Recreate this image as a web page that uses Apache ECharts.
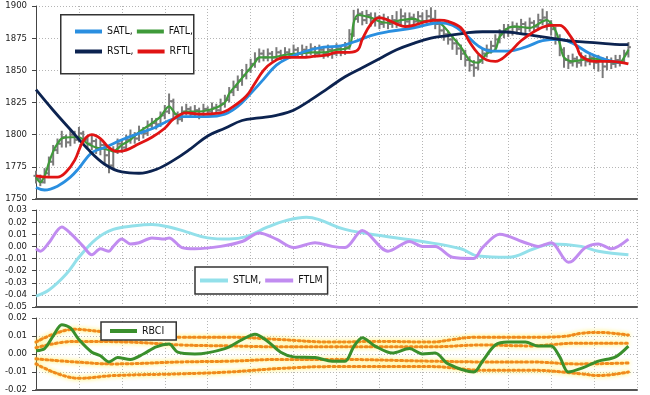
<!DOCTYPE html>
<html><head><meta charset="utf-8">
<script src="https://cdn.jsdelivr.net/npm/echarts@6/dist/echarts.min.js"></script>
<style>html,body{margin:0;padding:0;background:#fff}#c{width:650px;height:395px}</style>
</head><body><div id="c"></div>
<script>
// ---- price bars [open, close, low, high], one per index ----
const bars = [
[1768,1766,1762,1772],[1766,1763,1760,1769],[1763,1770,1762,1774],[1770,1779,1768,1783],[1779,1788,1776,1792],
[1788,1793,1785,1797],[1793,1798,1790,1803],[1798,1794,1790,1800],[1794,1800,1791,1804],[1800,1796,1793,1803],
[1796,1801,1794,1806],[1801,1796,1792,1803],[1796,1793,1789,1799],[1793,1795,1788,1800],[1795,1789,1785,1797],
[1789,1792,1784,1796],[1792,1784,1778,1794],[1784,1776,1770,1788],[1776,1787,1774,1791],[1787,1793,1785,1797],
[1793,1790,1786,1796],[1790,1796,1788,1800],[1796,1799,1793,1804],[1799,1797,1793,1802],[1797,1803,1795,1807],
[1803,1801,1797,1806],[1801,1807,1799,1811],[1807,1809,1804,1813],[1809,1808,1804,1813],[1808,1815,1806,1818],
[1815,1818,1812,1823],[1818,1826,1816,1832],[1826,1816,1812,1828],[1816,1812,1808,1818],[1812,1818,1810,1822],
[1818,1820,1815,1824],[1820,1816,1813,1822],[1816,1819,1814,1823],[1819,1816,1812,1821],[1816,1820,1814,1824],
[1820,1818,1815,1822],[1818,1821,1816,1825],[1821,1819,1816,1824],[1819,1824,1818,1828],[1824,1827,1821,1831],
[1827,1833,1825,1837],[1833,1837,1830,1842],[1837,1842,1834,1846],[1842,1846,1838,1851],[1846,1850,1843,1855],
[1850,1855,1848,1859],[1855,1859,1852,1864],[1859,1863,1856,1867],[1863,1860,1857,1866],[1860,1863,1857,1867],
[1863,1860,1857,1865],[1860,1864,1858,1868],[1864,1861,1858,1866],[1861,1864,1859,1868],[1864,1862,1859,1867],
[1862,1866,1860,1870],[1866,1863,1860,1868],[1863,1866,1861,1870],[1866,1864,1861,1869],[1864,1867,1862,1871],
[1867,1863,1860,1869],[1863,1866,1861,1870],[1866,1863,1859,1868],[1863,1866,1860,1870],[1866,1863,1859,1868],
[1863,1867,1861,1871],[1867,1864,1861,1869],[1864,1868,1862,1872],[1868,1878,1866,1882],[1878,1890,1876,1897],
[1890,1894,1887,1898],[1894,1889,1885,1896],[1889,1893,1886,1897],[1893,1888,1884,1895],[1888,1891,1884,1895],
[1891,1886,1882,1893],[1886,1890,1883,1894],[1890,1886,1882,1892],[1886,1889,1883,1893],[1889,1887,1883,1896],
[1887,1892,1885,1898],[1892,1888,1884,1895],[1888,1891,1885,1895],[1891,1888,1884,1894],[1888,1892,1885,1896],
[1892,1888,1884,1895],[1888,1892,1885,1897],[1892,1890,1886,1899],[1890,1886,1882,1897],[1886,1881,1877,1889],
[1881,1878,1873,1884],[1878,1874,1870,1881],[1874,1871,1866,1877],[1871,1867,1862,1874],[1867,1863,1858,1870],
[1863,1858,1853,1866],[1858,1854,1849,1861],[1854,1852,1845,1858],[1852,1858,1850,1862],[1858,1863,1855,1867],
[1863,1866,1860,1870],[1866,1869,1863,1873],[1869,1874,1866,1878],[1874,1878,1871,1882],[1878,1882,1875,1886],
[1882,1880,1876,1886],[1880,1884,1877,1888],[1884,1882,1878,1887],[1882,1886,1879,1890],[1886,1883,1879,1888],
[1883,1887,1880,1891],[1887,1884,1880,1889],[1884,1889,1881,1894],[1889,1891,1885,1898],[1891,1886,1881,1896],
[1886,1882,1877,1889],[1882,1875,1870,1884],[1875,1866,1861,1878],[1866,1858,1852,1868],[1858,1856,1851,1862],
[1856,1859,1853,1863],[1859,1856,1852,1861],[1856,1860,1853,1864],[1860,1857,1853,1862],[1857,1860,1854,1864],
[1860,1856,1851,1862],[1856,1858,1849,1862],[1858,1853,1844,1860],[1853,1857,1850,1861],[1857,1855,1851,1860],
[1855,1858,1852,1862],[1858,1857,1853,1862],[1857,1863,1855,1866],[1863,1868,1860,1872]
];

// ---- price-panel lines: index positions and values ----
const satlIdx = [0,2,5,8,10,13,16,20,24,28,31,34,40,44,47,50,53,56,59,63,67,71,74,78,82,88,94,97,100,103,106,110,114,118,122,125,129,133,136];
const satlVal = [1759,1757,1760,1767,1774,1786,1790,1796,1801,1806,1811,1814,1814,1816,1822,1832,1843,1854,1860,1865,1868,1869,1872,1877,1880,1883,1887,1885,1878,1869,1865,1865,1868,1873,1874,1871,1863,1858,1856];

const fatlIdx = [0,1,2,3,4,5,6,8,10,12,14,16,17,18,20,22,24,27,29,31,33,35,38,40,42,44,45,47,49,51,52,55,58,61,64,67,70,73,74,75,78,80,82,85,88,90,93,95,97,99,101,103,105,107,108,110,112,115,118,119,121,122,123,125,127,130,133,136,137,138];
const fatlVal = [1767,1763,1768,1778,1787,1793,1797,1798,1798,1793,1790,1789,1788,1787,1792,1796,1802,1809,1814,1822,1815,1818,1818,1819,1821,1825,1832,1840,1848,1856,1860,1860,1862,1863,1864,1864,1866,1868,1887,1893,1891,1888,1887,1889,1890,1888,1889,1884,1876,1868,1858,1856,1863,1866,1876,1883,1884,1883,1888,1889,1881,1871,1860,1857,1858,1859,1857,1856,1860,1866];

const rstlIdx = [0,4,8,12,16,20,24,28,32,36,40,44,48,52,56,60,64,68,72,76,80,84,88,92,96,100,104,108,112,116,120,124,128,132,136,138];
const rstlVal = [1835,1819,1804,1789,1777,1771,1770,1773,1780,1789,1799,1805,1811,1813,1815,1819,1827,1836,1845,1852,1859,1866,1871,1875,1877,1879,1880,1880,1879,1877,1875,1873,1872,1871,1870,1870];

const rftlIdx = [0,3,5,7,9,11,13,15,17,19,21,24,27,30,32,35,38,43,46,49,51,53,55,58,62,65,68,70,73,75,76,78,80,82,84,86,88,91,94,96,99,101,103,105,107,110,113,117,120,122,124,126,127,130,134,138];
const rftlVal = [1768,1767,1767,1771,1780,1795,1800,1797,1790,1787,1788,1793,1798,1805,1812,1817,1816,1817,1822,1830,1840,1850,1856,1860,1860,1861,1862,1864,1864,1866,1874,1886,1891,1889,1886,1884,1885,1888,1889,1888,1883,1872,1863,1858,1857,1863,1873,1882,1885,1885,1879,1868,1861,1857,1857,1855];

// ---- momentum panel ----
const stlmIdx = [0,3,7,10,14,18,23,27,31,35,40,45,49,54,58,63,66,72,82,90,99,103,110,116,120,127,131,138];
const stlmVal = [-0.041,-0.036,-0.023,-0.009,0.006,0.014,0.017,0.018,0.016,0.012,0.007,0.006,0.008,0.016,0.021,0.024,0.022,0.014,0.008,0.004,-0.002,-0.008,-0.009,-0.002,0.002,0.000,-0.004,-0.007];
const ftlmIdx = [0,1,3,6,8,11,13,15,17,18,20,22,24,27,30,31,34,37,43,48,52,56,60,65,69,72,76,82,87,90,93,97,102,104,108,114,117,120,124,125,128,131,134,138];
const ftlmVal = [-0.002,-0.004,0.003,0.016,0.011,0.000,-0.007,-0.002,-0.004,0.000,0.006,0.002,0.003,0.007,0.006,0.007,-0.001,-0.002,0.000,0.004,0.011,0.006,-0.001,0.003,0.000,-0.001,0.013,-0.004,0.004,0.000,0.000,-0.009,-0.010,-0.001,0.010,0.003,0.000,0.003,-0.013,-0.012,-0.001,0.002,-0.002,0.006];

// ---- RBCI panel ----
const rbciIdx = [0,2,4,6,8,10,13,15,17,19,22,25,28,31,33,37,44,48,51,54,57,60,65,69,72,74,76,79,83,87,90,93,96,102,104,107,110,114,117,120,122,124,127,131,135,138];
const rbciVal = [0.0018,0.003,0.010,0.0163,0.0145,0.008,0.001,-0.001,-0.0044,-0.002,-0.003,0.000,0.004,0.0055,0.001,0.000,0.003,0.008,0.011,0.007,0.001,-0.0016,-0.002,-0.004,-0.004,0.004,0.009,0.0044,0.0005,0.003,0.000,0.0005,-0.0055,-0.010,-0.004,0.005,0.0066,0.0066,0.0044,0.0044,-0.0016,-0.010,-0.008,-0.004,-0.0016,0.0044];
const bandUOIdx = [0,4,9,15,22,34,45,57,69,80,92,97,102,115,123,127,131,138];
const bandUOVal = [0.0066,0.011,0.0137,0.0125,0.011,0.0093,0.0093,0.008,0.0066,0.007,0.0066,0.008,0.0093,0.0093,0.0098,0.0115,0.012,0.0105];
const bandUIIdx = [0,9,22,34,45,57,69,80,92,104,115,126,138];
const bandUIVal = [0.0035,0.007,0.0066,0.005,0.0045,0.004,0.004,0.004,0.004,0.005,0.0045,0.006,0.006];
const bandLIIdx = [0,9,18,34,45,57,69,92,104,115,126,138];
const bandLIVal = [-0.0027,-0.0044,-0.0055,-0.0044,-0.004,-0.003,-0.003,-0.004,-0.0044,-0.0044,-0.0055,-0.005];
const bandLOIdx = [0,10,18,34,45,57,69,92,104,115,127,131,138];
const bandLOVal = [-0.0055,-0.0135,-0.012,-0.011,-0.010,-0.008,-0.007,-0.007,-0.009,-0.009,-0.011,-0.012,-0.010];

const priceTicks = {min:1750, max:1900, interval:25};
const momTicks = {min:-0.05, max:0.03, interval:0.01};
const rbciTicks = {min:-0.02, max:0.02, interval:0.01};
const commaNames = ['SATL','FATL','RSTL','STLM'];

const pairs = (idx, val) => idx.map((x, k) => [x, val[k]]);

const FONT = "'DejaVu Sans Condensed', 'Liberation Sans Narrow', 'DejaVu Sans', sans-serif";
const grids = [
  {left:36, right:13, top:6, height:193},
  {left:36, right:13, top:210, height:97},
  {left:36, right:13, top:318, height:73}
];
const split = {show:true, lineStyle:{color:'#b5b5b5', type:[1,2], width:1}};
const xAxes = [0,1,2].map(g => ({
  type:'value', gridIndex:g, min:0, max:140, interval:10,
  axisLabel:{show:false}, axisTick:{show:false},
  axisLine:{show:true, onZero:false, lineStyle:{color:'#555', width:2}},
  splitLine:split
}));
function yAxis(g, t, fmt){
  return {type:'value', gridIndex:g, min:t.min, max:t.max, interval:t.interval,
    axisLine:{show:true, lineStyle:{color:'#444', width:1}},
    axisTick:{show:true, length:4, lineStyle:{color:'#444'}},
    axisLabel:{fontFamily:FONT, fontSize:9.5, color:'#222', margin:9, formatter:fmt},
    splitLine:split};
}
const yAxes = [
  yAxis(0, priceTicks, v => String(Math.round(v))),
  yAxis(1, momTicks, v => (Math.abs(v)<1e-9?0:v).toFixed(2)),
  yAxis(2, rbciTicks, v => (Math.abs(v)<1e-9?0:v).toFixed(2))
];

function line(name, idx, val, color, width, g, extra){
  return Object.assign({type:'line', name, xAxisIndex:g, yAxisIndex:g, data:pairs(idx,val),
    smooth:0.4, showSymbol:false, symbol:'none', lineStyle:{color, width}, itemStyle:{color}, z:3, silent:true}, extra||{});
}
function band(idx, val){
  return {type:'line', xAxisIndex:2, yAxisIndex:2, data:pairs(idx,val), smooth:0.4, symbol:'none', silent:true, z:2,
    lineStyle:{color:'#f08a1c', width:3, type:[2,3], cap:'round', shadowColor:'rgba(255,235,60,0.9)', shadowBlur:4}};
}

const barSeries = {
  type:'custom', name:'bars', xAxisIndex:0, yAxisIndex:0, z:2, silent:true,
  data: bars.map((b, i) => [i, b[0], b[1], b[2], b[3]]),
  encode:{x:0, y:[1,2,3,4]},
  renderItem(params, api){
    const x = api.value(0);
    const pO = api.coord([x, api.value(1)]), pC = api.coord([x, api.value(2)]);
    const pL = api.coord([x, api.value(3)]), pH = api.coord([x, api.value(4)]);
    const st = {stroke:'#7a7a7a', lineWidth:2};
    return {type:'group', children:[
      {type:'line', shape:{x1:pL[0], y1:pL[1], x2:pH[0], y2:pH[1]}, style:st},
      {type:'line', shape:{x1:pO[0]-2.5, y1:pO[1], x2:pO[0], y2:pO[1]}, style:st},
      {type:'line', shape:{x1:pC[0], y1:pC[1], x2:pC[0]+2.5, y2:pC[1]}, style:st}
    ]};
  }
};

const legendText = {fontFamily:FONT, fontSize:10.5, color:'#111'};
const legendFmt = n => commaNames.includes(n) ? n + ',' : n;
const legBase = {icon:'rect', itemHeight:4, textStyle:legendText, formatter:legendFmt, selectedMode:false, orient:'horizontal'};
const boxed = {backgroundColor:'#fff', borderColor:'#333', borderWidth:1.5};

const option = {
  animation:false,
  grid:grids,
  xAxis:xAxes,
  yAxis:yAxes,
  graphic:[{type:'rect', left:60, top:14, shape:{width:133, height:59}, z:10,
    style:{fill:'#fff', stroke:'#333', lineWidth:1.5}}],
  legend:[
    Object.assign({}, legBase, {data:['SATL','FATL'], left:75, top:26, itemWidth:27, itemGap:4, padding:0, z:11}),
    Object.assign({}, legBase, {data:['RSTL','RFTL'], left:75, top:46, itemWidth:27, itemGap:4, padding:0, z:11}),
    Object.assign({}, legBase, boxed, {data:['STLM','FTLM'], left:195, top:267, itemWidth:28, itemGap:4, padding:[8,5,8,5]}),
    Object.assign({}, legBase, boxed, {data:['RBCI'], left:101, top:322, itemWidth:27, itemGap:6, padding:[3.5,12,3.5,9]})
  ],
  series:[
    barSeries,
    line('FATL', fatlIdx, fatlVal, '#3f9a3a', 2.2, 0, {smooth:0.3}),
    line('SATL', satlIdx, satlVal, '#2a8fe0', 2.8, 0),
    line('RSTL', rstlIdx, rstlVal, '#0c2350', 2.8, 0),
    line('RFTL', rftlIdx, rftlVal, '#e01414', 2.8, 0),
    line('STLM', stlmIdx, stlmVal, '#93e0ea', 3, 1),
    line('FTLM', ftlmIdx, ftlmVal, '#c18cf0', 3, 1, {smooth:0.3}),
    band(bandUOIdx, bandUOVal),
    band(bandUIIdx, bandUIVal),
    band(bandLIIdx, bandLIVal),
    band(bandLOIdx, bandLOVal),
    line('RBCI', rbciIdx, rbciVal, '#3a8f2c', 3, 2, {smooth:0.3, z:4})
  ]
};
echarts.init(document.getElementById('c'), null, {renderer:'canvas'}).setOption(option);
</script></body></html>
